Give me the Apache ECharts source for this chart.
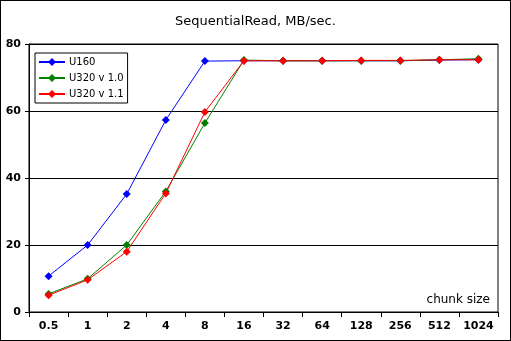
<!DOCTYPE html>
<html>
<head>
<meta charset="utf-8">
<style>
  html, body { margin: 0; padding: 0; background: #fff; }
  #chart { width: 511px; height: 341px; box-sizing: border-box; border: 1px solid #000; }
</style>
<script src="https://cdn.jsdelivr.net/npm/echarts@6/dist/echarts.min.js"></script>
</head>
<body>
<div id="chart"></div>
<script>
// chunk sizes and sequential read throughput (MB/sec.)
const chunkSizes = ['0.5', '1', '2', '4', '8', '16', '32', '64', '128', '256', '512', '1024'];
const u160   = [10.7, 20.0, 35.2, 57.3, 74.9, 75.0, 75.0, 75.0, 75.0, 75.0, 75.2, 75.3];
const u320v10 = [5.4, 9.9, 20.0, 36.0, 56.4, 75.2, 75.0, 75.0, 75.0, 75.0, 75.3, 75.6];
const u320v11 = [5.0, 9.6, 18.0, 35.4, 59.7, 75.0, 75.0, 75.0, 75.1, 75.1, 75.3, 75.3];
const yTicks = [0, 20, 40, 60, 80];

const font = 'Verdana, "DejaVu Sans", sans-serif';
const chart = echarts.init(document.getElementById('chart'), null, { renderer: 'canvas' });

function line(name, data, color) {
  return {
    name, type: 'line', data,
    symbol: 'diamond', symbolSize: 8,
    lineStyle: { color, width: 1 },
    itemStyle: { color },
    emphasis: { disabled: true }
  };
}

chart.setOption({
  animation: false,
  title: {
    text: 'SequentialRead, MB/sec.',
    left: 'center', top: 9,
    textStyle: { fontFamily: font, fontSize: 13, fontWeight: 'normal', color: '#000' }
  },
  legend: {
    orient: 'vertical', left: 34, top: 52,
    backgroundColor: '#fff', borderColor: '#000', borderWidth: 1,
    padding: [4, 4, 4, 3], itemGap: 6, itemWidth: 26, itemHeight: 10,
    textStyle: { fontFamily: font, fontSize: 10, color: '#000', padding: [0, 0, 0, -1] },
    data: ['U160', 'U320 v 1.0', 'U320 v 1.1']
  },
  grid: { left: 28, right: 12, top: 43, bottom: 28, containLabel: false,
          show: true, borderColor: '#000', borderWidth: 1 },
  xAxis: {
    type: 'category', data: chunkSizes, boundaryGap: true,
    name: 'chunk size', nameLocation: 'end', nameGap: 0,
    nameTextStyle: { fontFamily: font, fontSize: 12, color: '#000',
                     align: 'right', verticalAlign: 'bottom', padding: [0, 8, 6, 0] },
    axisLine: { lineStyle: { color: '#000', width: 1 } },
    axisTick: { show: true, inside: false, length: 5, alignWithLabel: false, lineStyle: { color: '#000' } },
    axisLabel: { fontFamily: font, fontSize: 11, fontWeight: 'bold', color: '#000', margin: 9, interval: 0 },
    splitLine: { show: false }
  },
  yAxis: {
    type: 'value', min: yTicks[0], max: yTicks[yTicks.length - 1], interval: 20,
    axisLine: { show: true, lineStyle: { color: '#000', width: 1 } },
    axisTick: { show: true, length: 4, lineStyle: { color: '#000' } },
    axisLabel: { fontFamily: font, fontSize: 11, fontWeight: 'bold', color: '#000', margin: 8 },
    splitLine: { show: true, lineStyle: { color: '#000', width: 1 } }
  },
  series: [
    line('U160', u160, '#0000ff'),
    line('U320 v 1.0', u320v10, '#008000'),
    line('U320 v 1.1', u320v11, '#ff0000')
  ]
});
</script>
</body>
</html>
